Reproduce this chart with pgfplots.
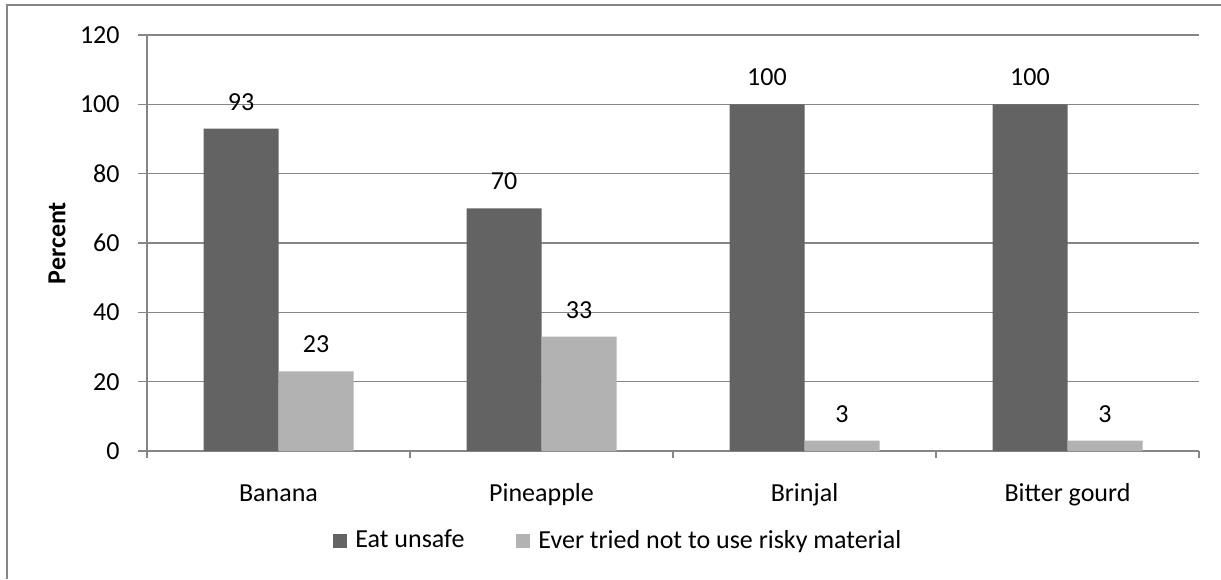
\documentclass[border=0pt]{standalone}
\usepackage{pgfplots}
\pgfplotsset{compat=1.18}
\usepackage{fontspec}
\setmainfont{Carlito}
\definecolor{barDark}{HTML}{636363}
\definecolor{barLight}{HTML}{B2B2B2}
\definecolor{axisGray}{HTML}{868686}
\begin{document}
\fontsize{13}{15.6}\selectfont
\begin{tikzpicture}
\path[use as bounding box] (0pt,0pt) rectangle (610.5pt,-289.5pt);
% chart frame (left and top edges)
\draw[axisGray, line width=0.9pt] (3.5pt,-289.5pt) -- (3.5pt,-2.5pt) -- (610.5pt,-2.5pt);
\begin{axis}[
  at={(73.5pt,-225.5pt)}, anchor=south west,
  scale only axis, width=526pt, height=208pt,
  ybar=0pt, bar width=37.5pt,
  xmin=-0.5, xmax=3.5, ymin=0, ymax=120,
  axis x line*=bottom, axis y line*=left,
  axis line style={axisGray, line width=0.7pt, -},
  xtick={0,1,2,3},
  xticklabels={Banana,Pineapple,Brinjal,Bitter gourd},
  minor xtick={-0.5,0.5,1.5,2.5,3.5},
  major x tick style={draw=none},
  minor tick length=3.5pt,
  ytick={0,20,...,120},
  major tick length=4.5pt,
  tick align=outside,
  tick style={axisGray, line width=0.7pt},
  ymajorgrids, grid style={axisGray, line width=0.7pt},
  /pgf/number format/assume math mode=true,
  yticklabel style={inner sep=0pt, xshift=-9pt},
  xticklabel style={inner sep=0pt, anchor=base, yshift=-20.5pt},
  ylabel={\bfseries Percent},
  ylabel style={at={(axis description cs:-0.0856,0.5)}, anchor=center, rotate=0},
  nodes near coords,
  every node near coord/.append style={anchor=south, inner sep=0pt, yshift=9pt, black},
  legend style={at={(axis description cs:0.1768,-0.2163)}, anchor=west, draw=none, fill=none,
    legend columns=2, inner sep=0pt, nodes={inner sep=0pt},
    /tikz/every even column/.append style={column sep=26pt}},
  legend image code/.code={\fill[#1] (0pt,-3.5pt) rectangle (7pt,3.5pt); \path (11pt,0pt);},
]
\addplot[fill=barDark, draw=none] coordinates {(0,93) (1,70) (2,100) (3,100)};
\addplot[fill=barLight, draw=none] coordinates {(0,23) (1,33) (2,3) (3,3)};
\legend{Eat unsafe, Ever tried not to use risky material}
\end{axis}
\end{tikzpicture}
\end{document}
